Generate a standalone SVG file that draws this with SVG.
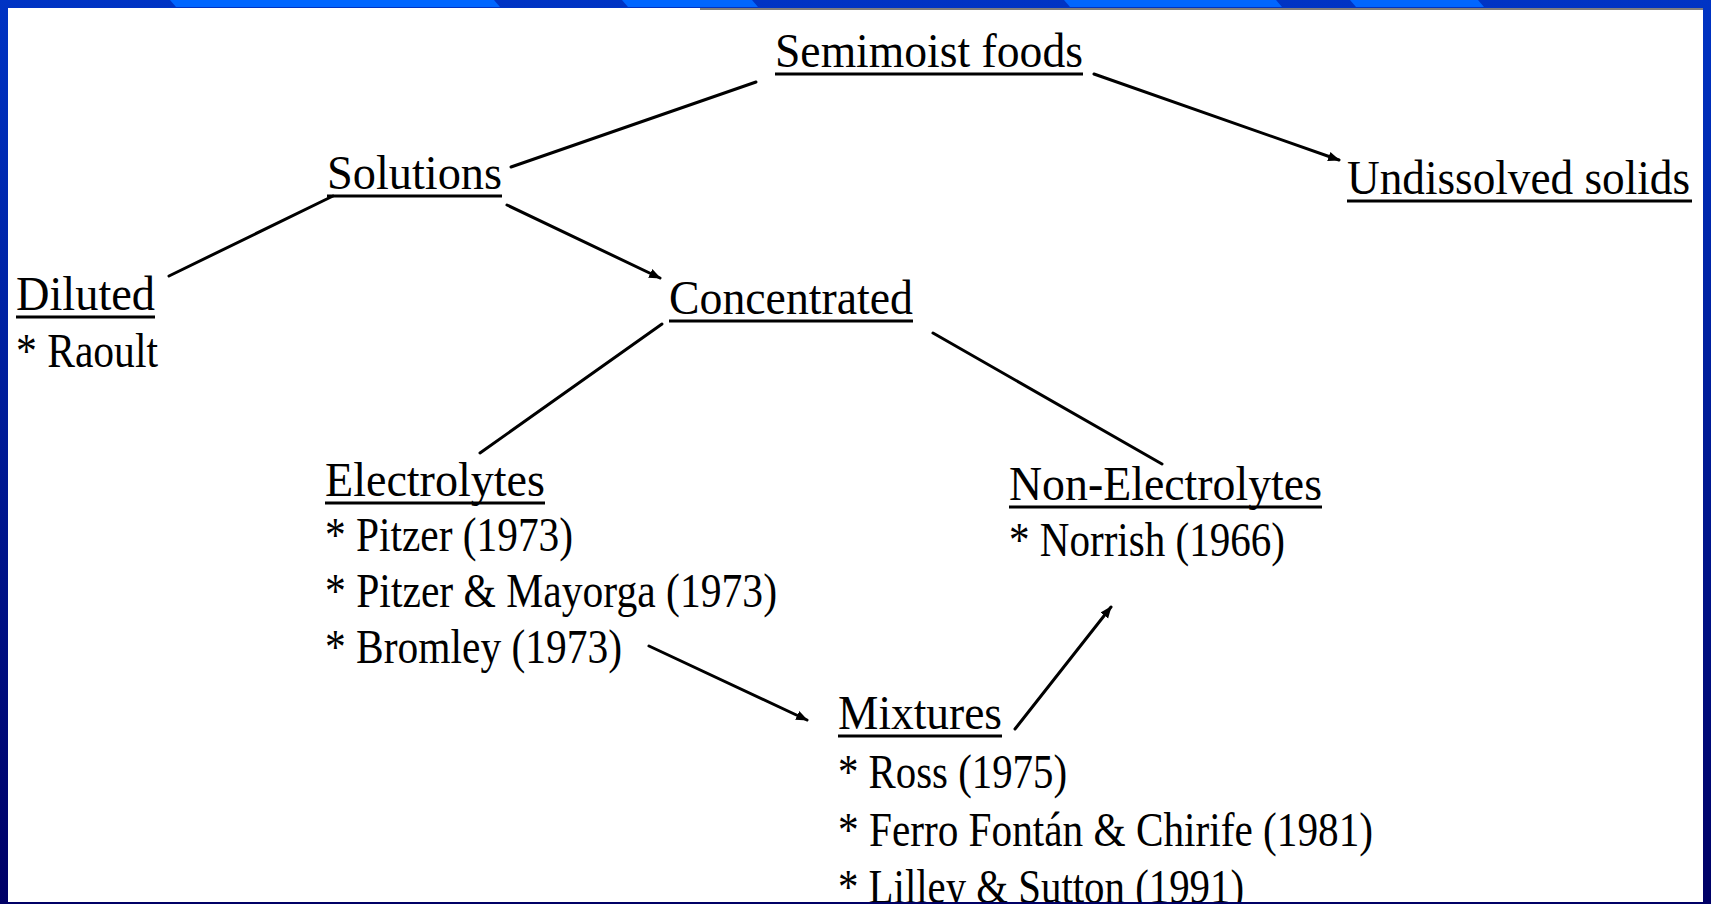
<svg xmlns="http://www.w3.org/2000/svg" width="1711" height="904" viewBox="0 0 1711 904">
<style>
  .t { font-family: "Liberation Serif", "Times New Roman", serif; font-size: 48px; fill: #000; }
  .u { stroke: #000; stroke-width: 3; }
  .c { stroke: #000; stroke-width: 3; fill: none; stroke-linecap: round; }
</style>
<defs>
  <linearGradient id="frame" x1="0" y1="0" x2="0" y2="1">
    <stop offset="0" stop-color="#0034c4"/>
    <stop offset="1" stop-color="#000066"/>
  </linearGradient>
  <marker id="ah" viewBox="0 0 10 10" refX="9" refY="5" markerWidth="4" markerHeight="4" orient="auto" markerUnits="strokeWidth">
    <path d="M0,1 L10,5 L0,9 z" fill="#000"/>
  </marker>
</defs>
<g id="frame-border">
  <rect x="0" y="0" width="1711" height="904" fill="url(#frame)"/>
  <g fill="#0066ff">
    <polygon points="170,0 494,0 500,7 176,7"/>
    <polygon points="622,0 752,0 758,7 628,7"/>
    <polygon points="1064,0 1276,0 1282,7 1070,7"/>
    <polygon points="1350,0 1478,0 1484,7 1356,7"/>
  </g>
  <rect x="8" y="8" width="1695" height="894" fill="#fff"/>
  <line x1="700" y1="9" x2="1703" y2="9" stroke="#555" stroke-width="1.5"/>
</g>
<g id="connectors">
  <line class="c" x1="756" y1="82" x2="511" y2="167"/>
  <line class="c" x1="1094" y1="74" x2="1339" y2="160" marker-end="url(#ah)"/>
  <line class="c" x1="333" y1="196" x2="169" y2="276"/>
  <line class="c" x1="507" y1="205" x2="660" y2="278" marker-end="url(#ah)"/>
  <line class="c" x1="662" y1="324" x2="480" y2="453"/>
  <line class="c" x1="933" y1="333" x2="1162" y2="464"/>
  <line class="c" x1="649" y1="646" x2="807" y2="720" marker-end="url(#ah)"/>
  <line class="c" x1="1015" y1="729" x2="1111" y2="607" marker-end="url(#ah)"/>
</g>
<g id="semimoist">
  <text class="t" x="775" y="67" textLength="308" lengthAdjust="spacingAndGlyphs">Semimoist foods</text>
  <line class="u" x1="775" y1="74" x2="1083" y2="74"/>
</g>
<g id="solutions">
  <text class="t" x="327" y="189" textLength="175" lengthAdjust="spacingAndGlyphs">Solutions</text>
  <line class="u" x1="327" y1="196" x2="502" y2="196"/>
</g>
<g id="undissolved">
  <text class="t" x="1347" y="194" textLength="343" lengthAdjust="spacingAndGlyphs">Undissolved solids</text>
  <line class="u" x1="1347" y1="201" x2="1692" y2="201"/>
</g>
<g id="diluted">
  <text class="t" x="16" y="310" textLength="139" lengthAdjust="spacingAndGlyphs">Diluted</text>
  <line class="u" x1="16" y1="317" x2="155" y2="317"/>
  <text class="t" x="16" y="367" textLength="142" lengthAdjust="spacingAndGlyphs">* Raoult</text>
</g>
<g id="concentrated">
  <text class="t" x="669" y="314" textLength="244" lengthAdjust="spacingAndGlyphs">Concentrated</text>
  <line class="u" x1="669" y1="321" x2="913" y2="321"/>
</g>
<g id="electrolytes">
  <text class="t" x="325" y="496" textLength="220" lengthAdjust="spacingAndGlyphs">Electrolytes</text>
  <line class="u" x1="325" y1="503" x2="545" y2="503"/>
  <text class="t" x="325" y="551" textLength="248" lengthAdjust="spacingAndGlyphs">* Pitzer (1973)</text>
  <text class="t" x="325" y="607" textLength="452" lengthAdjust="spacingAndGlyphs">* Pitzer &amp; Mayorga (1973)</text>
  <text class="t" x="325" y="663" textLength="297" lengthAdjust="spacingAndGlyphs">* Bromley (1973)</text>
</g>
<g id="non-electrolytes">
  <text class="t" x="1009" y="500" textLength="313" lengthAdjust="spacingAndGlyphs">Non-Electrolytes</text>
  <line class="u" x1="1009" y1="507" x2="1322" y2="507"/>
  <text class="t" x="1009" y="556" textLength="276" lengthAdjust="spacingAndGlyphs">* Norrish (1966)</text>
</g>
<g id="mixtures">
  <text class="t" x="838" y="729" textLength="164" lengthAdjust="spacingAndGlyphs">Mixtures</text>
  <line class="u" x1="838" y1="736" x2="1002" y2="736"/>
  <text class="t" x="838" y="788" textLength="229" lengthAdjust="spacingAndGlyphs">* Ross (1975)</text>
  <text class="t" x="838" y="846" textLength="535" lengthAdjust="spacingAndGlyphs">* Ferro Fontán &amp; Chirife (1981)</text>
  <text class="t" x="838" y="903" textLength="406" lengthAdjust="spacingAndGlyphs">* Lilley &amp; Sutton (1991)</text>
</g>
<rect x="0" y="902" width="1711" height="2" fill="#000066"/>
</svg>
